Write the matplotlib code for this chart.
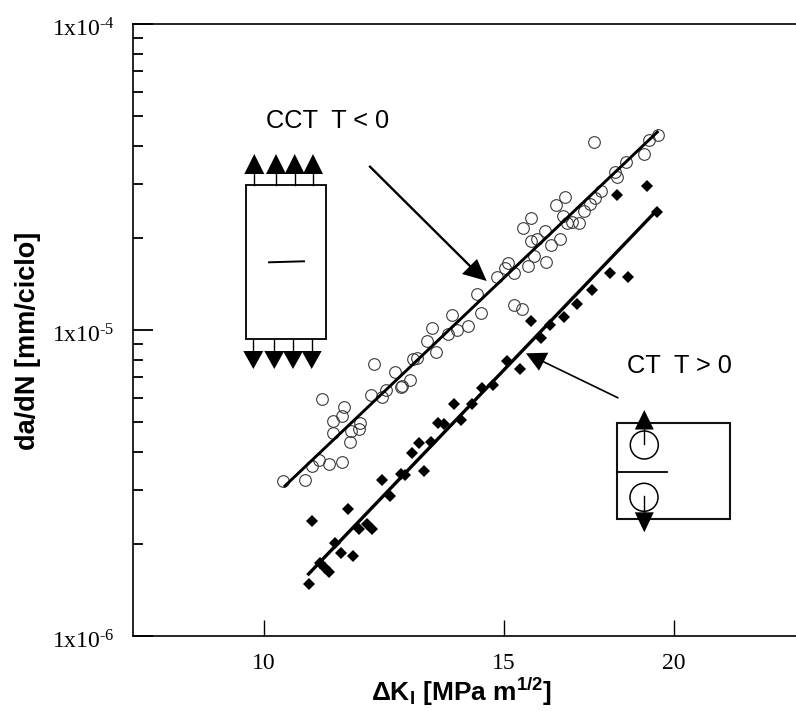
import matplotlib
matplotlib.use("Agg")
import matplotlib.pyplot as plt
from matplotlib.patches import Polygon, Circle, Rectangle
from matplotlib.ticker import LogLocator, NullFormatter, NullLocator, FixedLocator
from matplotlib.transforms import ScaledTranslation

plt.rcParams['mathtext.fontset'] = 'custom'
plt.rcParams['mathtext.rm'] = 'Liberation Serif'
plt.rcParams['mathtext.default'] = 'regular'

# CCT T<0 specimens, open circles
cct_dk = [10.32, 10.72, 10.85, 10.97, 11.17, 11.40, 11.56, 11.23, 11.58, 11.74, 11.77, 11.23,
          11.41, 11.44, 11.02, 11.98, 12.21, 12.29, 12.04, 12.47, 12.60, 12.62, 12.79, 12.86,
          12.96, 13.18, 13.38, 13.29, 13.64, 13.86, 14.12, 13.74, 14.43, 14.33, 15.26, 15.48,
          14.82, 15.03, 15.12, 15.26, 15.62, 15.80, 16.12, 16.26, 16.49, 15.70, 15.88, 16.09,
          15.51, 15.71, 16.38, 16.63, 16.58, 16.70, 16.84, 17.04, 17.19, 17.35, 17.51, 17.68,
          17.48, 18.10, 18.17, 18.45, 19.03, 19.19, 19.49]
cct_dadn = [3.21e-6, 3.24e-6, 3.60e-6, 3.77e-6, 3.66e-6, 3.70e-6, 4.29e-6, 4.60e-6, 4.66e-6,
            4.75e-6, 4.98e-6, 5.05e-6, 5.25e-6, 5.62e-6, 5.95e-6, 6.14e-6, 6.03e-6, 6.35e-6,
            7.75e-6, 7.29e-6, 6.52e-6, 6.55e-6, 6.87e-6, 8.06e-6, 8.12e-6, 9.21e-6, 8.49e-6,
            1.016e-5, 9.69e-6, 1.003e-5, 1.028e-5, 1.12e-5, 1.137e-5, 1.31e-5, 1.21e-5, 1.17e-5,
            1.49e-5, 1.60e-5, 1.65e-5, 1.53e-5, 1.62e-5, 1.75e-5, 1.67e-5, 1.90e-5, 1.99e-5,
            1.96e-5, 1.99e-5, 2.11e-5, 2.15e-5, 2.32e-5, 2.56e-5, 2.73e-5, 2.35e-5, 2.23e-5,
            2.26e-5, 2.24e-5, 2.44e-5, 2.58e-5, 2.70e-5, 2.85e-5, 4.10e-5, 3.29e-5, 3.16e-5,
            3.54e-5, 3.76e-5, 4.18e-5, 4.35e-5]

# CT T>0 specimens, filled diamonds
ct_dk = [10.79, 10.85, 11.00, 11.09, 11.17, 11.39, 11.28, 11.63, 11.53, 11.75, 11.90, 12.01,
         12.37, 12.21, 12.61, 12.70, 13.10, 12.84, 12.99, 13.26, 13.42, 13.57, 13.95, 13.80,
         14.21, 14.46, 14.74, 15.08, 15.41, 15.70, 15.97, 16.23, 16.62, 16.98, 17.43, 17.96,
         18.50, 18.18, 19.11, 19.44]
ct_dadn = [1.48e-6, 2.38e-6, 1.73e-6, 1.67e-6, 1.62e-6, 1.87e-6, 2.02e-6, 1.83e-6, 2.61e-6,
           2.23e-6, 2.32e-6, 2.23e-6, 2.87e-6, 3.24e-6, 3.38e-6, 3.35e-6, 3.45e-6, 3.95e-6,
           4.26e-6, 4.29e-6, 4.98e-6, 4.93e-6, 5.08e-6, 5.74e-6, 5.74e-6, 6.44e-6, 6.60e-6,
           7.90e-6, 7.44e-6, 1.07e-5, 9.45e-6, 1.04e-5, 1.10e-5, 1.22e-5, 1.35e-5, 1.53e-5,
           1.49e-5, 2.76e-5, 2.96e-5, 2.43e-5]

# fit lines
cct_fit_dk = [10.34, 19.49]
cct_fit_dadn = [3.07e-6, 4.47e-5]
ct_fit_dk = [10.76, 19.45]
ct_fit_dadn = [1.58e-6, 2.47e-5]

x_ticks = [10, 15, 20]
x_tick_labels = ['10', '15', '20']
y_ticks = [1e-6, 1e-5, 1e-4]
y_tick_labels = ['1x10$^{\\text{-6}}$', '1x10$^{\\text{-5}}$', '1x10$^{\\text{-4}}$']

W, H = 796, 711
fig = plt.figure(figsize=(W / 100, H / 100), dpi=100)
ax = fig.add_axes([133 / W, (H - 636) / H, (W - 133) / W, (636 - 24) / H])
ax.set_xscale('log')
ax.set_yscale('log')
ax.set_xlim(8.01, 24.6)
ax.set_ylim(1e-6, 1e-4)

ax.plot(cct_fit_dk, cct_fit_dadn, color='black', lw=2.1, solid_capstyle='butt', zorder=3)
ax.plot(ct_fit_dk, ct_fit_dadn, color='black', lw=2.4, solid_capstyle='butt', zorder=3)
ax.plot(cct_dk, cct_dadn, 'o', ms=8.4, mfc='none', mec='#3a3a3a', mew=0.8, zorder=2)
ax.plot(ct_dk, ct_dadn, 'D', ms=6.4, color='black', mew=0, zorder=4)

# ticks
ax.xaxis.set_major_locator(FixedLocator(x_ticks))
ax.xaxis.set_minor_locator(NullLocator())
ax.set_xticklabels(x_tick_labels, family='Liberation Serif', fontsize=17)
ax.yaxis.set_major_locator(FixedLocator(y_ticks))
ax.yaxis.set_minor_locator(LogLocator(base=10, subs=[2, 3, 4, 5, 6, 7, 8, 9], numticks=10))
ax.yaxis.set_minor_formatter(NullFormatter())
ax.set_yticklabels(y_tick_labels, family='Liberation Serif', fontsize=17)
ax.tick_params(axis='x', which='major', direction='in', length=11.5, width=1.0, pad=12)
ax.tick_params(axis='y', which='major', direction='in', length=14.4, width=1.3, pad=13)
ax.tick_params(axis='y', which='minor', direction='in', length=7.2, width=1.3)
ax.spines['right'].set_visible(False)
for side in ['left', 'top', 'bottom']:
  ax.spines[side].set_linewidth(1.2)

# y labels sit a little under their ticks in the scan
nudge = ScaledTranslation(0, -3 / 100, fig.dpi_scale_trans)
for lab in ax.get_yticklabels():
  lab.set_transform(lab.get_transform() + nudge)

ax.set_xlabel('ΔK$_{I}$ [MPa m$^{1/2}$]', family='Liberation Sans', weight='bold', fontsize=19, va='center')
ax.xaxis.set_label_coords(0.4955, -0.092)
ax.set_ylabel('da/dN [mm/ciclo]', family='Liberation Sans', weight='bold', fontsize=19.5, va='center')
ax.yaxis.set_label_coords(-0.158, 0.482)

# overlay in image pixels for the specimen sketches and callouts
sk = fig.add_axes([0, 0, 1, 1], facecolor='none')
sk.set_xlim(0, W)
sk.set_ylim(H, 0)
sk.axis('off')

sk.text(266, 128, 'CCT  T < 0', family='Liberation Sans', fontsize=18.3, va='baseline')
sk.text(627, 373, 'CT  T > 0', family='Liberation Sans', fontsize=18.3, va='baseline')

# CCT sketch
sk.add_patch(Rectangle((246, 185), 80, 154, fc='none', ec='#111111', lw=1.4))
sk.plot([269, 304], [262.3, 261.3], color='black', lw=1.4)
for cx in [254.3, 276, 294.7, 313]:
  sk.plot([cx, cx], [174, 185], color='black', lw=1)
  sk.add_patch(Polygon([(cx, 154), (cx - 10, 174), (cx + 10, 174)], fc='black', ec='none'))
for cx in [253.3, 274.3, 293, 311.7]:
  sk.plot([cx, cx], [339, 351], color='black', lw=1)
  sk.add_patch(Polygon([(cx, 369), (cx - 10, 351), (cx + 10, 351)], fc='black', ec='none'))

# CT sketch
sk.add_patch(Rectangle((617.3, 423.3), 112.7, 95.7, fc='none', ec='#111111', lw=1.5))
sk.plot([617.3, 666.7], [472, 472], color='black', lw=1.3)
sk.add_patch(Circle((644.3, 445), 14, fc='none', ec='black', lw=1.1))
sk.add_patch(Circle((644, 497.3), 14, fc='none', ec='black', lw=1.1))
sk.plot([644.3, 644.3], [429, 444], color='black', lw=1)
sk.plot([644, 644], [496, 512], color='black', lw=1)
sk.add_patch(Polygon([(644.3, 410), (634.8, 429.5), (653.8, 429.5)], fc='black', ec='none'))
sk.add_patch(Polygon([(644.3, 532.3), (634.8, 512.3), (653.8, 512.3)], fc='black', ec='none'))

# callout arrows
sk.plot([370, 472], [166.7, 268], color='black', lw=1.7)
sk.add_patch(Polygon([(486.7, 281), (477, 259), (462, 274)], fc='black', ec='none'))
sk.plot([617.7, 544], [397.7, 362], color='black', lw=1.2)
sk.add_patch(Polygon([(526, 353.3), (548.3, 352.7), (539, 370.7)], fc='black', ec='none'))

fig.savefig('out.png', dpi=100)
plt.close(fig)
